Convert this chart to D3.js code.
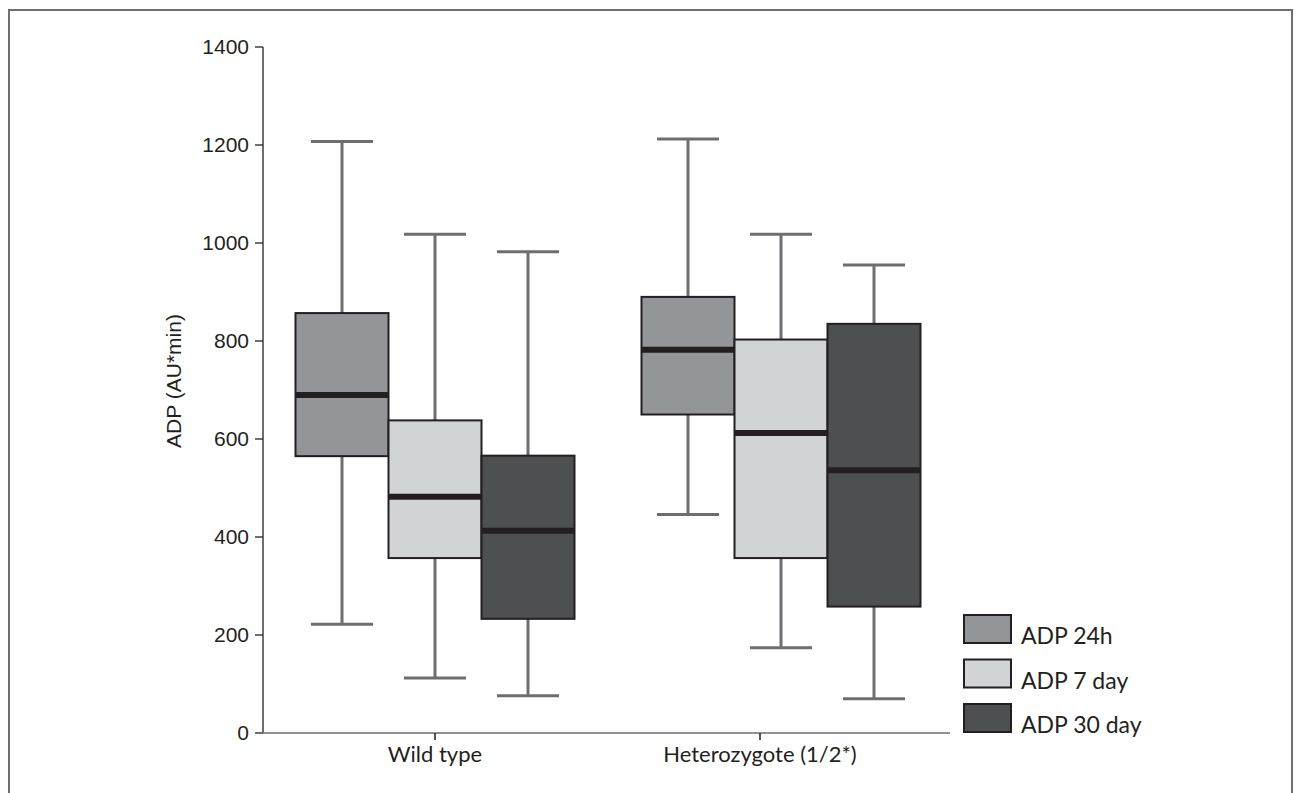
<!DOCTYPE html>
<html lang="en">
  <head>
    <meta charset="UTF-8" />
    <title>ADP boxplot</title>
    <script src="https://d3js.org/d3.v7.min.js"></script>
    <style>
      * {
        margin: 0;
        padding: 0;
      }
      body {
        background: #fff;
      }
      .tick-label {
        font-family: "Liberation Sans", Arial, sans-serif;
        font-size: 21px;
        fill: #231f20;
      }
      .cat-label,
      .legend-label {
        font-family: Lato, "Open Sans", sans-serif;
        font-size: 22px;
        fill: #231f20;
      }
      .legend-label {
        font-size: 23px;
      }
    </style>
  </head>
  <body></body>
  <script>
    let w = 1295;
    let h = 793;

    // data
    const groups = ["Wild type", "Heterozygote (1/2*)"];
    const series = ["ADP 24h", "ADP 7 day", "ADP 30 day"];
    const colors = ["#939598", "#d1d3d4", "#4d4f51"];
    const yTicks = [0, 200, 400, 600, 800, 1000, 1200, 1400];
    // [min, q1, median, q3, max] per series, per group
    const wildType = [
      [222, 565, 690, 857, 1207],
      [112, 357, 482, 638, 1018],
      [76, 233, 413, 566, 982],
    ];
    const heterozygote = [
      [446, 650, 782, 890, 1212],
      [174, 357, 612, 803, 1018],
      [70, 258, 536, 835, 955],
    ];
    const boxData = [wildType, heterozygote];

    let svg = d3
      .select("body")
      .append("svg")
      .attr("width", w)
      .attr("height", h);

    // frame
    svg
      .append("path")
      .attr("d", "M9,793 V10 H1292 V793")
      .attr("fill", "none")
      .attr("stroke", "#6d6e71")
      .attr("stroke-width", 2);

    let y = d3.scaleLinear().domain([0, 1400]).range([733, 47]);
    // tick positions of categories
    let xTick = d3.scalePoint().domain(groups).range([435, 760]);
    // where the box clusters sit
    let xGroup = d3.scalePoint().domain(groups).range([435, 781]);
    let boxW = 93;
    let xSeries = d3
      .scaleBand()
      .domain(series)
      .range([-1.5 * boxW, 1.5 * boxW]);

    // y axis
    let yAxis = svg.append("g");
    yAxis
      .append("line")
      .attr("x1", 263)
      .attr("x2", 263)
      .attr("y1", y(1400))
      .attr("y2", y(0))
      .attr("stroke", "#231f20")
      .attr("stroke-width", 1.3);
    yAxis
      .selectAll(".yt")
      .data(yTicks)
      .enter()
      .append("line")
      .attr("x1", 255)
      .attr("x2", 263)
      .attr("y1", (d) => y(d))
      .attr("y2", (d) => y(d))
      .attr("stroke", "#231f20")
      .attr("stroke-width", 1.3);
    yAxis
      .selectAll("text")
      .data(yTicks)
      .enter()
      .append("text")
      .attr("class", "tick-label")
      .attr("x", 249)
      .attr("y", (d) => y(d))
      .attr("dy", "0.35em")
      .attr("text-anchor", "end")
      .text((d) => d);

    svg
      .append("text")
      .attr("class", "tick-label")
      .attr("transform", "translate(181,381) rotate(-90)")
      .attr("text-anchor", "middle")
      .style("font-size", "21px")
      .text("ADP (AU*min)");

    // x axis
    svg
      .append("line")
      .attr("x1", 255)
      .attr("x2", 950)
      .attr("y1", y(0))
      .attr("y2", y(0))
      .attr("stroke", "#6d6e71")
      .attr("stroke-width", 1.3);
    svg
      .selectAll(".xt")
      .data(groups)
      .enter()
      .append("line")
      .attr("x1", (d) => xTick(d))
      .attr("x2", (d) => xTick(d))
      .attr("y1", y(0))
      .attr("y2", y(0) + 7)
      .attr("stroke", "#231f20")
      .attr("stroke-width", 1.5);
    svg
      .selectAll(".cat-label")
      .data(groups)
      .enter()
      .append("text")
      .attr("class", "cat-label")
      .attr("x", (d) => xTick(d))
      .attr("y", 762)
      .attr("text-anchor", "middle")
      .text((d) => d);

    // boxes
    groups.forEach((g, gi) => {
      series.forEach((s, si) => {
        let d = boxData[gi][si];
        let x0 = xGroup(g) + xSeries(s);
        let cx = x0 + boxW / 2;
        let box = svg.append("g");
        // whiskers
        box
          .append("line")
          .attr("x1", cx)
          .attr("x2", cx)
          .attr("y1", y(d[4]))
          .attr("y2", y(d[3]))
          .attr("stroke", "#6d6e71")
          .attr("stroke-width", 3);
        box
          .append("line")
          .attr("x1", cx)
          .attr("x2", cx)
          .attr("y1", y(d[1]))
          .attr("y2", y(d[0]))
          .attr("stroke", "#6d6e71")
          .attr("stroke-width", 3);
        [d[0], d[4]].forEach((v) => {
          box
            .append("line")
            .attr("x1", cx - 31)
            .attr("x2", cx + 31)
            .attr("y1", y(v))
            .attr("y2", y(v))
            .attr("stroke", "#6d6e71")
            .attr("stroke-width", 3);
        });
        box
          .append("rect")
          .attr("x", x0)
          .attr("y", y(d[3]))
          .attr("width", boxW)
          .attr("height", y(d[1]) - y(d[3]))
          .attr("fill", colors[si])
          .attr("stroke", "#231f20")
          .attr("stroke-width", 2);
        box
          .append("line")
          .attr("x1", x0)
          .attr("x2", x0 + boxW)
          .attr("y1", y(d[2]))
          .attr("y2", y(d[2]))
          .attr("stroke", "#231f20")
          .attr("stroke-width", 6);
      });
    });

    // legend
    let legend = svg
      .append("g")
      .selectAll("g")
      .data(series)
      .enter()
      .append("g")
      .attr("transform", (d, i) => "translate(964," + (615 + i * 44.5) + ")");
    legend
      .append("rect")
      .attr("width", 47)
      .attr("height", 28)
      .attr("fill", (d, i) => colors[i])
      .attr("stroke", "#231f20")
      .attr("stroke-width", 2);
    legend
      .append("text")
      .attr("class", "legend-label")
      .attr("x", 57)
      .attr("y", 29)
      .text((d) => d);
  </script>
</html>
